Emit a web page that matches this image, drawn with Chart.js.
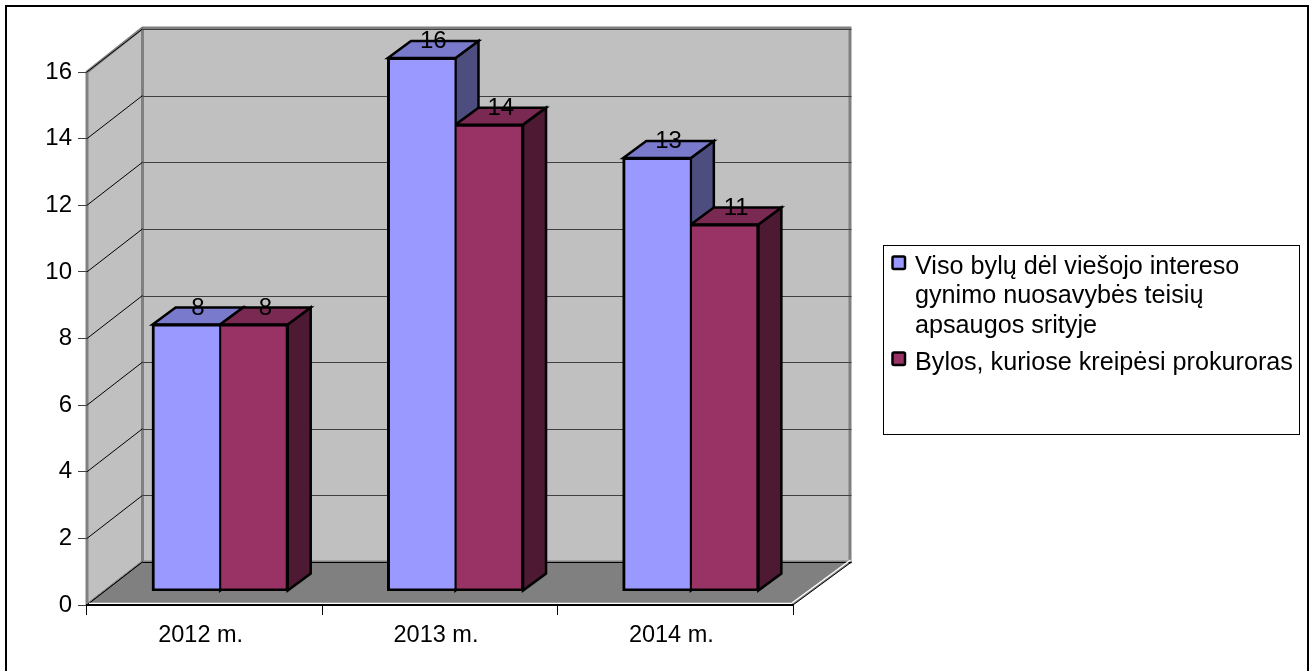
<!DOCTYPE html>
<html lang="lt">
<head>
<meta charset="utf-8">
<title>Bylos dėl viešojo intereso gynimo</title>
<script src="https://cdn.jsdelivr.net/npm/chart.js@4/dist/chart.umd.min.js"></script>
<style>
  html, body { margin: 0; padding: 0; background: #fff; }
  canvas { display: block; }
</style>
</head>
<body>
<canvas id="chart" width="1313" height="671"></canvas>
<script>
// Chart content
const categories = ['2012 m.', '2013 m.', '2014 m.'];
const totalCases = [8, 16, 13];
const prosecutorCases = [8, 14, 11];
const totalLegendLines = ['Viso bylų dėl viešojo intereso', 'gynimo nuosavybės teisių', 'apsaugos srityje'];
const prosecutorLegendLines = ['Bylos, kuriose kreipėsi prokuroras'];
const yTickStep = 2;
const yMax = 16;

// Pseudo-3D geometry, in pixels
const WALL = { dx: 55.5, rightDx: 57, dy: -43 };
const BAR_FRONT = { dx: 15.5, dy: -14 };
const BAR_DEPTH = { dx: 23, dy: -17 };
const FONT = '"Liberation Sans", Arial, sans-serif';
const AXIS_FONT_SIZE = 24;
const LEGEND_FONT_SIZE = 25.2;
const SHADES = [
  { front: '#9999ff', top: '#7a7acc', side: '#4d4d80' },
  { front: '#993366', top: '#7a2952', side: '#4d1933' }
];

function poly(ctx, pts, fill, stroke, lw) {
  ctx.beginPath();
  pts.forEach((p, i) => i ? ctx.lineTo(p[0], p[1]) : ctx.moveTo(p[0], p[1]));
  ctx.closePath();
  if (fill) { ctx.fillStyle = fill; ctx.fill(); }
  if (stroke) { ctx.strokeStyle = stroke; ctx.lineWidth = lw; ctx.lineJoin = 'miter'; ctx.stroke(); }
}

function line(ctx, x1, y1, x2, y2, color, lw) {
  ctx.beginPath();
  ctx.moveTo(x1, y1);
  ctx.lineTo(x2, y2);
  ctx.strokeStyle = color;
  ctx.lineWidth = lw;
  ctx.stroke();
}

// Outer frame, walls, floor and gridlines behind everything else
const roomPlugin = {
  id: 'room',
  beforeDraw(chart) {
    const { ctx, chartArea: a, scales: { y } } = chart;
    const bx = WALL.dx, by = WALL.dy, rx = a.right + WALL.rightDx;
    ctx.save();
    ctx.fillStyle = '#fff';
    ctx.fillRect(0, 0, chart.width, chart.height);
    ctx.strokeStyle = '#000';
    ctx.lineWidth = 2;
    ctx.strokeRect(6, 6, 1302, 680);

    // back wall and left wall
    poly(ctx, [[a.left + bx, a.top + by], [rx, a.top + by], [rx, a.bottom + by], [a.left + bx, a.bottom + by]], '#c0c0c0');
    poly(ctx, [[a.left, a.top], [a.left + bx, a.top + by], [a.left + bx, a.bottom + by], [a.left, a.bottom]], '#c0c0c0');

    // wall outlines
    ctx.strokeStyle = '#808080';
    ctx.lineWidth = 3;
    ctx.beginPath();
    ctx.moveTo(a.left, a.bottom);
    ctx.lineTo(a.left, a.top);
    ctx.lineTo(a.left + bx, a.top + by - 1);
    ctx.lineTo(rx, a.top + by - 1);
    ctx.lineTo(rx, a.bottom + by);
    ctx.lineTo(a.left + bx, a.bottom + by);
    ctx.lineTo(a.left, a.bottom);
    ctx.moveTo(a.left + bx, a.top + by);
    ctx.lineTo(a.left + bx, a.bottom + by);
    ctx.stroke();

    // gridlines run along the left wall, then across the back wall
    y.ticks.forEach(t => {
      const py = y.getPixelForValue(t.value);
      line(ctx, a.left, py, a.left + bx, py + by, '#000', 1);
      line(ctx, a.left + bx, Math.round(py + by) + 0.5, rx + 1.5, Math.round(py + by) + 0.5, '#404040', 1);
    });

    // floor
    poly(ctx, [[a.left, a.bottom], [a.left + bx, a.bottom + by], [rx + 1.5, a.bottom + by], [a.right, a.bottom]], '#808080');
    line(ctx, a.left + bx, a.bottom + by + 0.5, rx + 1.5, a.bottom + by + 0.5, '#000', 1);
    line(ctx, a.left, a.bottom, a.left + bx, a.bottom + by, '#000', 1);
    line(ctx, a.right, a.bottom, rx + 1.5, a.bottom + by, '#000', 1);
    line(ctx, a.right - 1, a.bottom - 2, rx + 0.5, a.bottom + by - 2, '#fff', 1.5);
    line(ctx, a.left + 2, a.bottom - 1.5, a.right - 1, a.bottom - 1.5, '#fff', 1.5);
    ctx.restore();
  },
  // Side and top faces first, so the library's front faces land over them
  beforeDatasetsDraw(chart) {
    const { ctx } = chart;
    ctx.save();
    const d = BAR_DEPTH;
    chart.data.datasets.forEach((ds, di) => {
      const shade = SHADES[di];
      chart.getDatasetMeta(di).data.forEach(bar => {
        const l = bar.x - bar.width / 2 + BAR_FRONT.dx;
        const r = bar.x + bar.width / 2 + BAR_FRONT.dx;
        const t = bar.y + BAR_FRONT.dy;
        const b = bar.base + BAR_FRONT.dy;
        poly(ctx, [[r, t], [r + d.dx, t + d.dy], [r + d.dx, b + d.dy], [r, b]], shade.side, '#000', 2.5);
        poly(ctx, [[l, t], [l + d.dx, t + d.dy], [r + d.dx, t + d.dy], [r, t]], shade.top, '#000', 2.5);
      });
    });
    ctx.restore();
    ctx.save();
    ctx.translate(BAR_FRONT.dx, BAR_FRONT.dy);
  },
  // Value labels sit on the top faces
  afterDatasetsDraw(chart) {
    const { ctx } = chart;
    ctx.restore();
    ctx.save();
    ctx.fillStyle = '#000';
    ctx.font = AXIS_FONT_SIZE + 'px ' + FONT;
    ctx.textAlign = 'center';
    ctx.textBaseline = 'middle';
    chart.data.datasets.forEach((ds, di) => {
      chart.getDatasetMeta(di).data.forEach((bar, i) => {
        ctx.fillText(String(ds.data[i]), bar.x + BAR_FRONT.dx + 11.5, bar.y + BAR_FRONT.dy - 16.5);
      });
    });
    ctx.restore();
  }
};

// Boxed legend with wrapped entries
const legendPlugin = {
  id: 'boxLegend',
  afterDraw(chart) {
    const { ctx } = chart;
    const box = { x: 884, y: 245, w: 416, h: 189 };
    const entries = [
      { lines: totalLegendLines, swatchY: 256.5, baselines: [273.5, 303, 332.5] },
      { lines: prosecutorLegendLines, swatchY: 352.5, baselines: [369.5] }
    ];
    ctx.save();
    ctx.strokeStyle = '#000';
    ctx.lineWidth = 1;
    ctx.strokeRect(box.x - 0.5, box.y + 0.5, box.w, box.h);
    ctx.font = LEGEND_FONT_SIZE + 'px ' + FONT;
    ctx.textAlign = 'left';
    ctx.textBaseline = 'alphabetic';
    entries.forEach((en, i) => {
      ctx.fillStyle = SHADES[i].front;
      ctx.strokeStyle = '#000';
      ctx.lineWidth = 2.5;
      ctx.beginPath();
      ctx.roundRect(892.5, en.swatchY, 12.5, 12.5, 1.5);
      ctx.fill();
      ctx.stroke();
      ctx.fillStyle = '#000';
      en.lines.forEach((txt, k) => ctx.fillText(txt, 915, en.baselines[k]));
    });
    ctx.restore();
  }
};

new Chart(document.getElementById('chart'), {
  type: 'bar',
  data: {
    labels: categories,
    datasets: [
      {
        label: totalLegendLines.join(' '),
        data: totalCases,
        backgroundColor: SHADES[0].front,
        borderColor: '#000',
        borderWidth: { left: 3, top: 3, bottom: 3, right: 2 },
        borderSkipped: false,
        inflateAmount: 1
      },
      {
        label: prosecutorLegendLines.join(' '),
        data: prosecutorCases,
        backgroundColor: SHADES[1].front,
        borderColor: '#000',
        borderWidth: { left: 2, top: 3, bottom: 3, right: 3 },
        borderSkipped: false,
        inflateAmount: 1
      }
    ]
  },
  options: {
    responsive: false,
    animation: false,
    layout: { padding: { left: 0, top: 72, right: 520, bottom: 0 } },
    plugins: { legend: { display: false }, tooltip: { enabled: false } },
    datasets: { bar: { barPercentage: 1, categoryPercentage: 0.574 } },
    scales: {
      x: {
        afterFit(scale) { scale.height = 66; },
        grid: { drawOnChartArea: false, color: '#000', tickLength: 10, lineWidth: 1 },
        border: { color: '#000', width: 2 },
        ticks: { color: '#000', font: { family: FONT, size: 23.5 }, padding: 6, labelOffset: -4, maxRotation: 0 }
      },
      y: {
        min: 0,
        max: yMax,
        afterFit(scale) { scale.width = 87; },
        grid: { drawOnChartArea: false, color: '#404040', tickLength: 9, lineWidth: 1 },
        border: { display: false },
        ticks: { color: '#000', stepSize: yTickStep, font: { family: FONT, size: AXIS_FONT_SIZE }, padding: 6 }
      }
    }
  },
  plugins: [roomPlugin, legendPlugin]
});
</script>
</body>
</html>
